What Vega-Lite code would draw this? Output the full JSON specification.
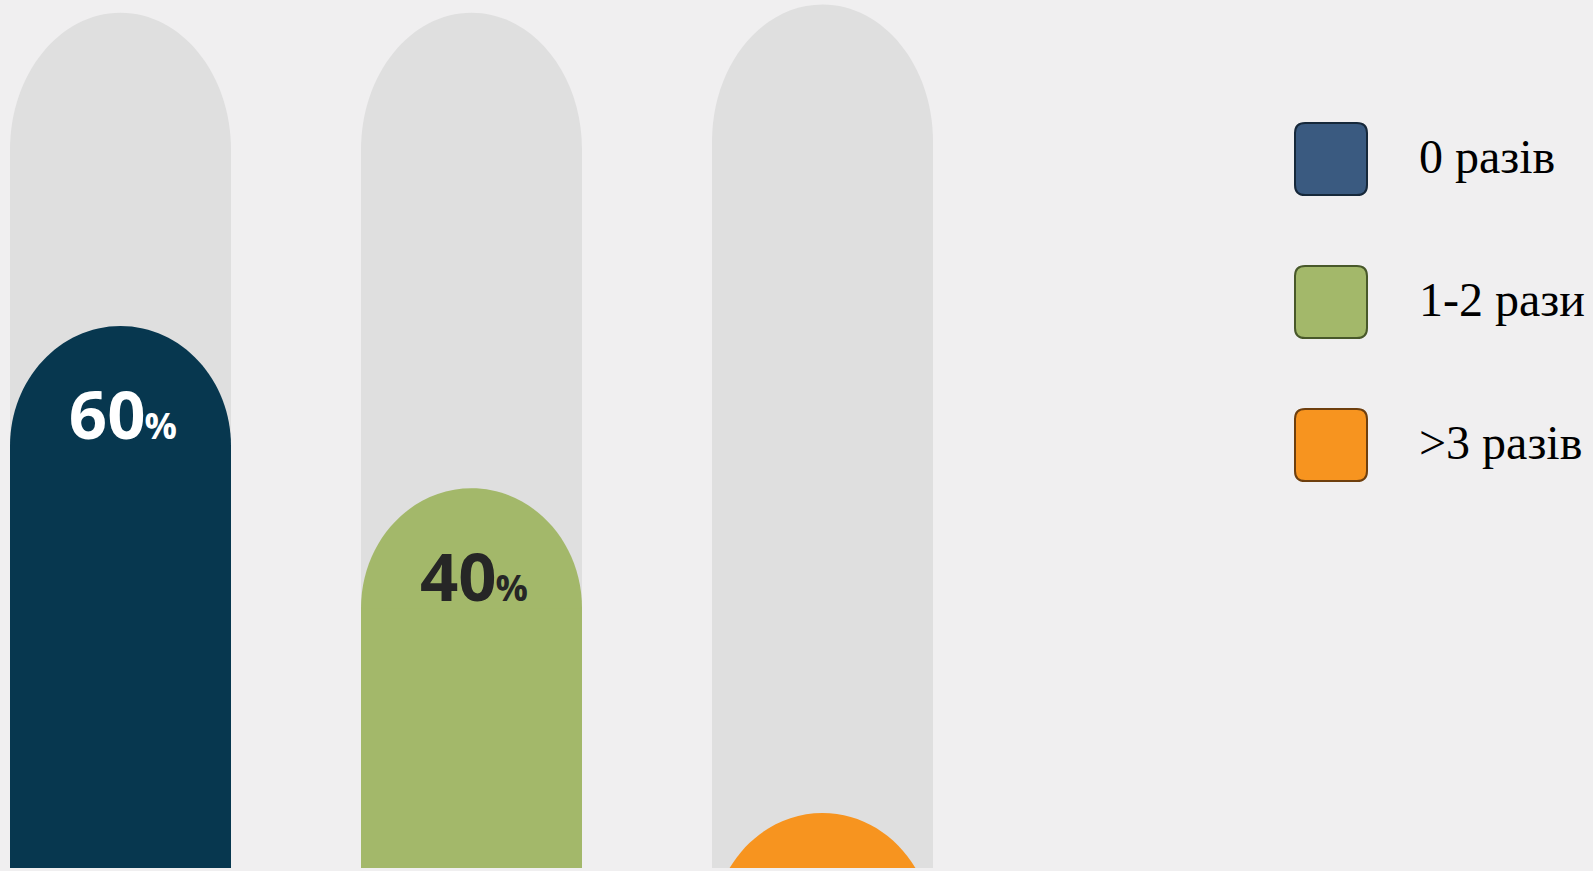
{
  "$schema": "https://vega.github.io/schema/vega-lite/v6.json",
  "autosize": {"type": "none"},
  "width": 943,
  "height": 868,
  "padding": {"left": 0, "top": 0, "right": 650, "bottom": 3},
  "background": "#f0eff0",
  "config": {"view": {"stroke": null}},
  "data": {
    "values": [
      {"cat": "0 разів", "value": 60, "track": 98.6},
      {"cat": "1-2 рази", "value": 40, "track": 98.6},
      {"cat": ">3 разів", "value": 0, "track": 99.6}
    ]
  },
  "encoding": {
    "x": {"field": "cat", "type": "nominal", "sort": null, "axis": null,
          "scale": {"paddingInner": 0.3704, "paddingOuter": 0.0285}}
  },
  "layer": [
    {
      "mark": {"type": "bar", "color": "#dfdfdf", "yOffset": 136, "clip": true},
      "encoding": {
        "y": {"field": "track", "type": "quantitative", "axis": null,
              "scale": {"domain": [-6.78, 100.16], "nice": false, "zero": false}},
        "y2": {"datum": -40}
      }
    },
    {
      "mark": {"type": "point", "filled": true, "opacity": 1, "strokeWidth": 0, "color": "#dfdfdf",
               "shape": "M -1 0 A 1 1.24 0 0 1 1 0 Z", "size": 48841, "yOffset": 137, "clip": true},
      "encoding": {
        "y": {"field": "track", "type": "quantitative"}
      }
    },
    {
      "mark": {"type": "bar", "yOffset": 119, "clip": true},
      "encoding": {
        "y": {"field": "value", "type": "quantitative"},
        "y2": {"datum": -40},
        "color": {
          "field": "cat", "type": "nominal", "sort": null,
          "condition": {"test": "datum.cat === '0 разів'", "value": "#07374f"},
          "scale": {"domain": ["0 разів", "1-2 рази", ">3 разів"], "range": ["#3a5a80", "#a3b86a", "#f7941f"]},
          "legend": {
            "orient": "none", "legendX": 1294, "legendY": 122, "title": null,
            "symbolType": "M -0.72 -1 L 0.72 -1 Q 1 -1 1 -0.72 L 1 0.72 Q 1 1 0.72 1 L -0.72 1 Q -1 1 -1 0.72 L -1 -0.72 Q -1 -1 -0.72 -1 Z",
            "symbolSize": 5184, "symbolStrokeWidth": 2,
            "labelFont": "Liberation Serif", "labelFontSize": 48, "labelColor": "#000000",
            "labelOffset": 51, "rowPadding": 63, "padding": 0, "labelLimit": 400,
            "encode": {
              "symbols": {
                "update": {
                  "stroke": {"signal": "datum.value === '0 разів' ? '#16283a' : datum.value === '1-2 рази' ? '#48582a' : '#6e3f0e'"},
                  "strokeWidth": {"value": 2},
                  "opacity": {"value": 1},
                  "fillOpacity": {"value": 1}
                }
              }
            }
          }
        }
      }
    },
    {
      "mark": {"type": "point", "filled": true, "opacity": 1, "strokeWidth": 0,
               "shape": "M -1 0 A 1 1.086 0 0 1 1 0 Z", "size": 48841, "yOffset": 120, "clip": true},
      "encoding": {
        "y": {"field": "value", "type": "quantitative"},
        "color": {"field": "cat", "type": "nominal", "sort": null,
                  "condition": {"test": "datum.cat === '0 разів'", "value": "#07374f"}}
      }
    },
    {
      "transform": [{"filter": "datum.value > 0"}],
      "mark": {"type": "text", "font": "Open Sans", "fontWeight": "bold", "fontSize": 67,
               "align": "right", "baseline": "alphabetic", "dx": 25, "dy": 113},
      "encoding": {
        "y": {"field": "value", "type": "quantitative"},
        "text": {"field": "value", "type": "quantitative"},
        "color": {"condition": {"test": "datum.value > 50", "value": "#ffffff"}, "value": "#262626"}
      }
    },
    {
      "transform": [{"filter": "datum.value > 0"}],
      "mark": {"type": "text", "font": "Open Sans", "fontWeight": "bold", "fontSize": 36,
               "align": "left", "baseline": "alphabetic", "dx": 24, "dy": 113},
      "encoding": {
        "y": {"field": "value", "type": "quantitative"},
        "text": {"value": "%"},
        "color": {"condition": {"test": "datum.value > 50", "value": "#ffffff"}, "value": "#262626"}
      }
    }
  ]
}
